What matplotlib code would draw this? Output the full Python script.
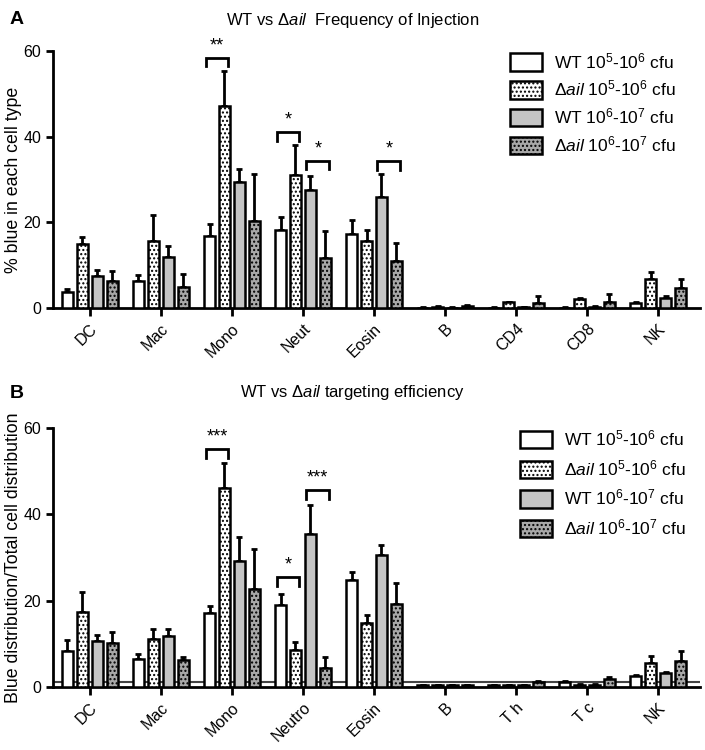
import matplotlib
matplotlib.use("Agg")
import matplotlib.pyplot as plt
import numpy as np

plt.rcParams['font.family'] = ['Liberation Sans', 'DejaVu Sans']
plt.rcParams['mathtext.fontset'] = 'custom'
plt.rcParams['mathtext.rm'] = 'Liberation Sans'
plt.rcParams['mathtext.it'] = 'Liberation Sans:italic'
plt.rcParams['mathtext.bf'] = 'Liberation Sans:bold'
plt.rcParams['hatch.linewidth'] = 1.0

# ---------------- data ----------------
cats_a = ["DC", "Mac", "Mono", "Neut", "Eosin", "B", "CD4", "CD8", "NK"]
cats_b = ["DC", "Mac", "Mono", "Neutro", "Eosin", "B", "T h", "T c", "NK"]

series_labels = [r"WT $10^{5}$-$10^{6}$ cfu",
                 r"$\Delta\mathit{ail}$ $10^{5}$-$10^{6}$ cfu",
                 r"WT $10^{6}$-$10^{7}$ cfu",
                 r"$\Delta\mathit{ail}$ $10^{6}$-$10^{7}$ cfu"]

# Panel A: mean values and top of error bar
a_wt_lo = [3.7, 6.2, 16.8, 18.2, 17.2, 0.1, 0.1, 0.1, 1.2]
a_wt_lo_top = [4.4, 7.6, 19.6, 21.2, 20.5, 0.2, 0.2, 0.2, 1.5]
a_dail_lo = [14.9, 15.7, 47.1, 31.1, 15.6, 0.3, 1.3, 2.0, 6.8]
a_dail_lo_top = [16.6, 21.8, 55.4, 38.0, 18.3, 0.4, 1.5, 2.3, 8.4]
a_wt_hi = [7.5, 12.0, 29.5, 27.5, 26.0, 0.1, 0.2, 0.3, 2.4]
a_wt_hi_top = [8.8, 14.4, 32.5, 30.8, 31.4, 0.2, 0.3, 0.4, 2.9]
a_dail_hi = [6.2, 5.0, 20.3, 11.7, 10.9, 0.5, 1.2, 1.5, 4.7]
a_dail_hi_top = [8.7, 8.0, 31.4, 17.9, 15.1, 0.6, 2.7, 3.2, 6.8]

# Panel B
b_wt_lo = [8.4, 6.5, 17.2, 19.0, 24.8, 0.3, 0.3, 1.2, 2.5]
b_wt_lo_top = [10.8, 7.5, 18.8, 21.5, 26.7, 0.4, 0.4, 1.4, 2.8]
b_dail_lo = [17.3, 11.0, 46.1, 8.5, 14.9, 0.3, 0.3, 0.5, 5.4]
b_dail_lo_top = [22.1, 13.4, 52.0, 10.3, 16.7, 0.4, 0.4, 0.6, 7.1]
b_wt_hi = [10.7, 11.8, 29.3, 35.4, 30.6, 0.3, 0.3, 0.5, 3.1]
b_wt_hi_top = [12.0, 13.4, 34.7, 42.2, 33.0, 0.4, 0.4, 0.6, 3.3]
b_dail_hi = [10.2, 6.3, 22.7, 4.3, 19.2, 0.3, 1.0, 1.9, 5.9]
b_dail_hi_top = [12.8, 6.8, 32.0, 6.8, 24.0, 0.4, 1.3, 2.2, 8.4]

# significance: (category index, series a, series b, bracket y, label)
sig_a = [(2, 0, 1, 58.4, "**"), (3, 0, 1, 41.1, "*"), (3, 2, 3, 34.4, "*"), (4, 2, 3, 34.3, "*")]
sig_b = [(2, 0, 1, 55.2, "***"), (3, 0, 1, 25.4, "*"), (3, 2, 3, 45.6, "***")]

# ---------------- style ----------------
faces = ["white", "white", "#c4c4c4", "#a8a8a8"]
hatches = [None, "....", None, "...."]
bw = 0.16
step = 0.21


def panel(ax, cats, means, tops, sigs, ylabel, title, letter, legx, labsp, title_y, refline=False):
    x = np.arange(len(cats))
    handles = []
    for k in range(4):
        xs = x + (k - 1.5) * step
        m = np.array(means[k])
        t = np.array(tops[k])
        ax.errorbar(xs, m, yerr=[np.zeros_like(m), t - m], fmt='none', ecolor='black',
                    elinewidth=2, capsize=2.5, capthick=2, zorder=2)
        h = ax.bar(xs, m, width=bw, color=faces[k], edgecolor='black', linewidth=1.8,
                   hatch=hatches[k], zorder=3, label=series_labels[k])
        handles.append(h)
    if refline:
        ax.axhline(1.0, color='#444444', lw=1.5, zorder=1)
    for (ci, sa, sb, yb, lab) in sigs:
        xa = ci + (sa - 1.5) * step - bw * 0.35
        xb = ci + (sb - 1.5) * step + bw * 0.35
        ax.plot([xa, xa, xb, xb], [yb - 2.0, yb, yb, yb - 2.0], color='black', lw=2,
                clip_on=False, zorder=4, solid_joinstyle='miter')
        ax.text((xa + xb) / 2, yb + 0.8, lab, ha='center', va='bottom', fontsize=13,
                clip_on=False)
    ax.set_xlim(-0.52, 8.59)
    ax.set_ylim(0, 60)
    ax.set_yticks([0, 20, 40, 60])
    ax.set_xticks(x)
    ax.set_xticklabels(cats, rotation=45, ha='right', rotation_mode='anchor', fontsize=11.5)
    ax.tick_params(axis='both', width=2, length=5, labelsize=11.5, direction='out')
    ax.tick_params(axis='x', length=6)
    for s in ['top', 'right']:
        ax.spines[s].set_visible(False)
    for s in ['left', 'bottom']:
        ax.spines[s].set_linewidth(2)
    ax.set_ylabel(ylabel, fontsize=12.8, labelpad=1)
    ax.legend(handles=handles, loc='upper left', bbox_to_anchor=(legx, 1.0),
              frameon=False, fontsize=12.5, handlelength=1.84, handleheight=1.15,
              labelspacing=labsp, handletextpad=0.7, borderpad=0, borderaxespad=0)
    fig.text(0.5, title_y, title, ha='center', va='center', fontsize=12)
    fig.text(0.014, title_y, letter, ha='left', va='center', fontsize=14, fontweight='bold')


fig = plt.figure(figsize=(7.05, 7.5), dpi=100)
axA = fig.add_axes([0.075, 0.5893, 0.918, 0.3427])
axB = fig.add_axes([0.075, 0.0844, 0.918, 0.3445])

panel(axA, cats_a, [a_wt_lo, a_dail_lo, a_wt_hi, a_dail_hi],
      [a_wt_lo_top, a_dail_lo_top, a_wt_hi_top, a_dail_hi_top], sig_a,
      "% blue in each cell type",
      r"WT vs $\Delta\mathit{ail}$  Frequency of Injection", "A", 0.706, 0.46, 1 - 20 / 750)
panel(axB, cats_b, [b_wt_lo, b_dail_lo, b_wt_hi, b_dail_hi],
      [b_wt_lo_top, b_dail_lo_top, b_wt_hi_top, b_dail_hi_top], sig_b,
      "Blue distribution/Total cell distribution",
      r"WT vs $\Delta\mathit{ail}$ targeting efficiency", "B", 0.722, 0.57, 1 - 393 / 750,
      refline=True)

fig.savefig("out.png", dpi=100)
